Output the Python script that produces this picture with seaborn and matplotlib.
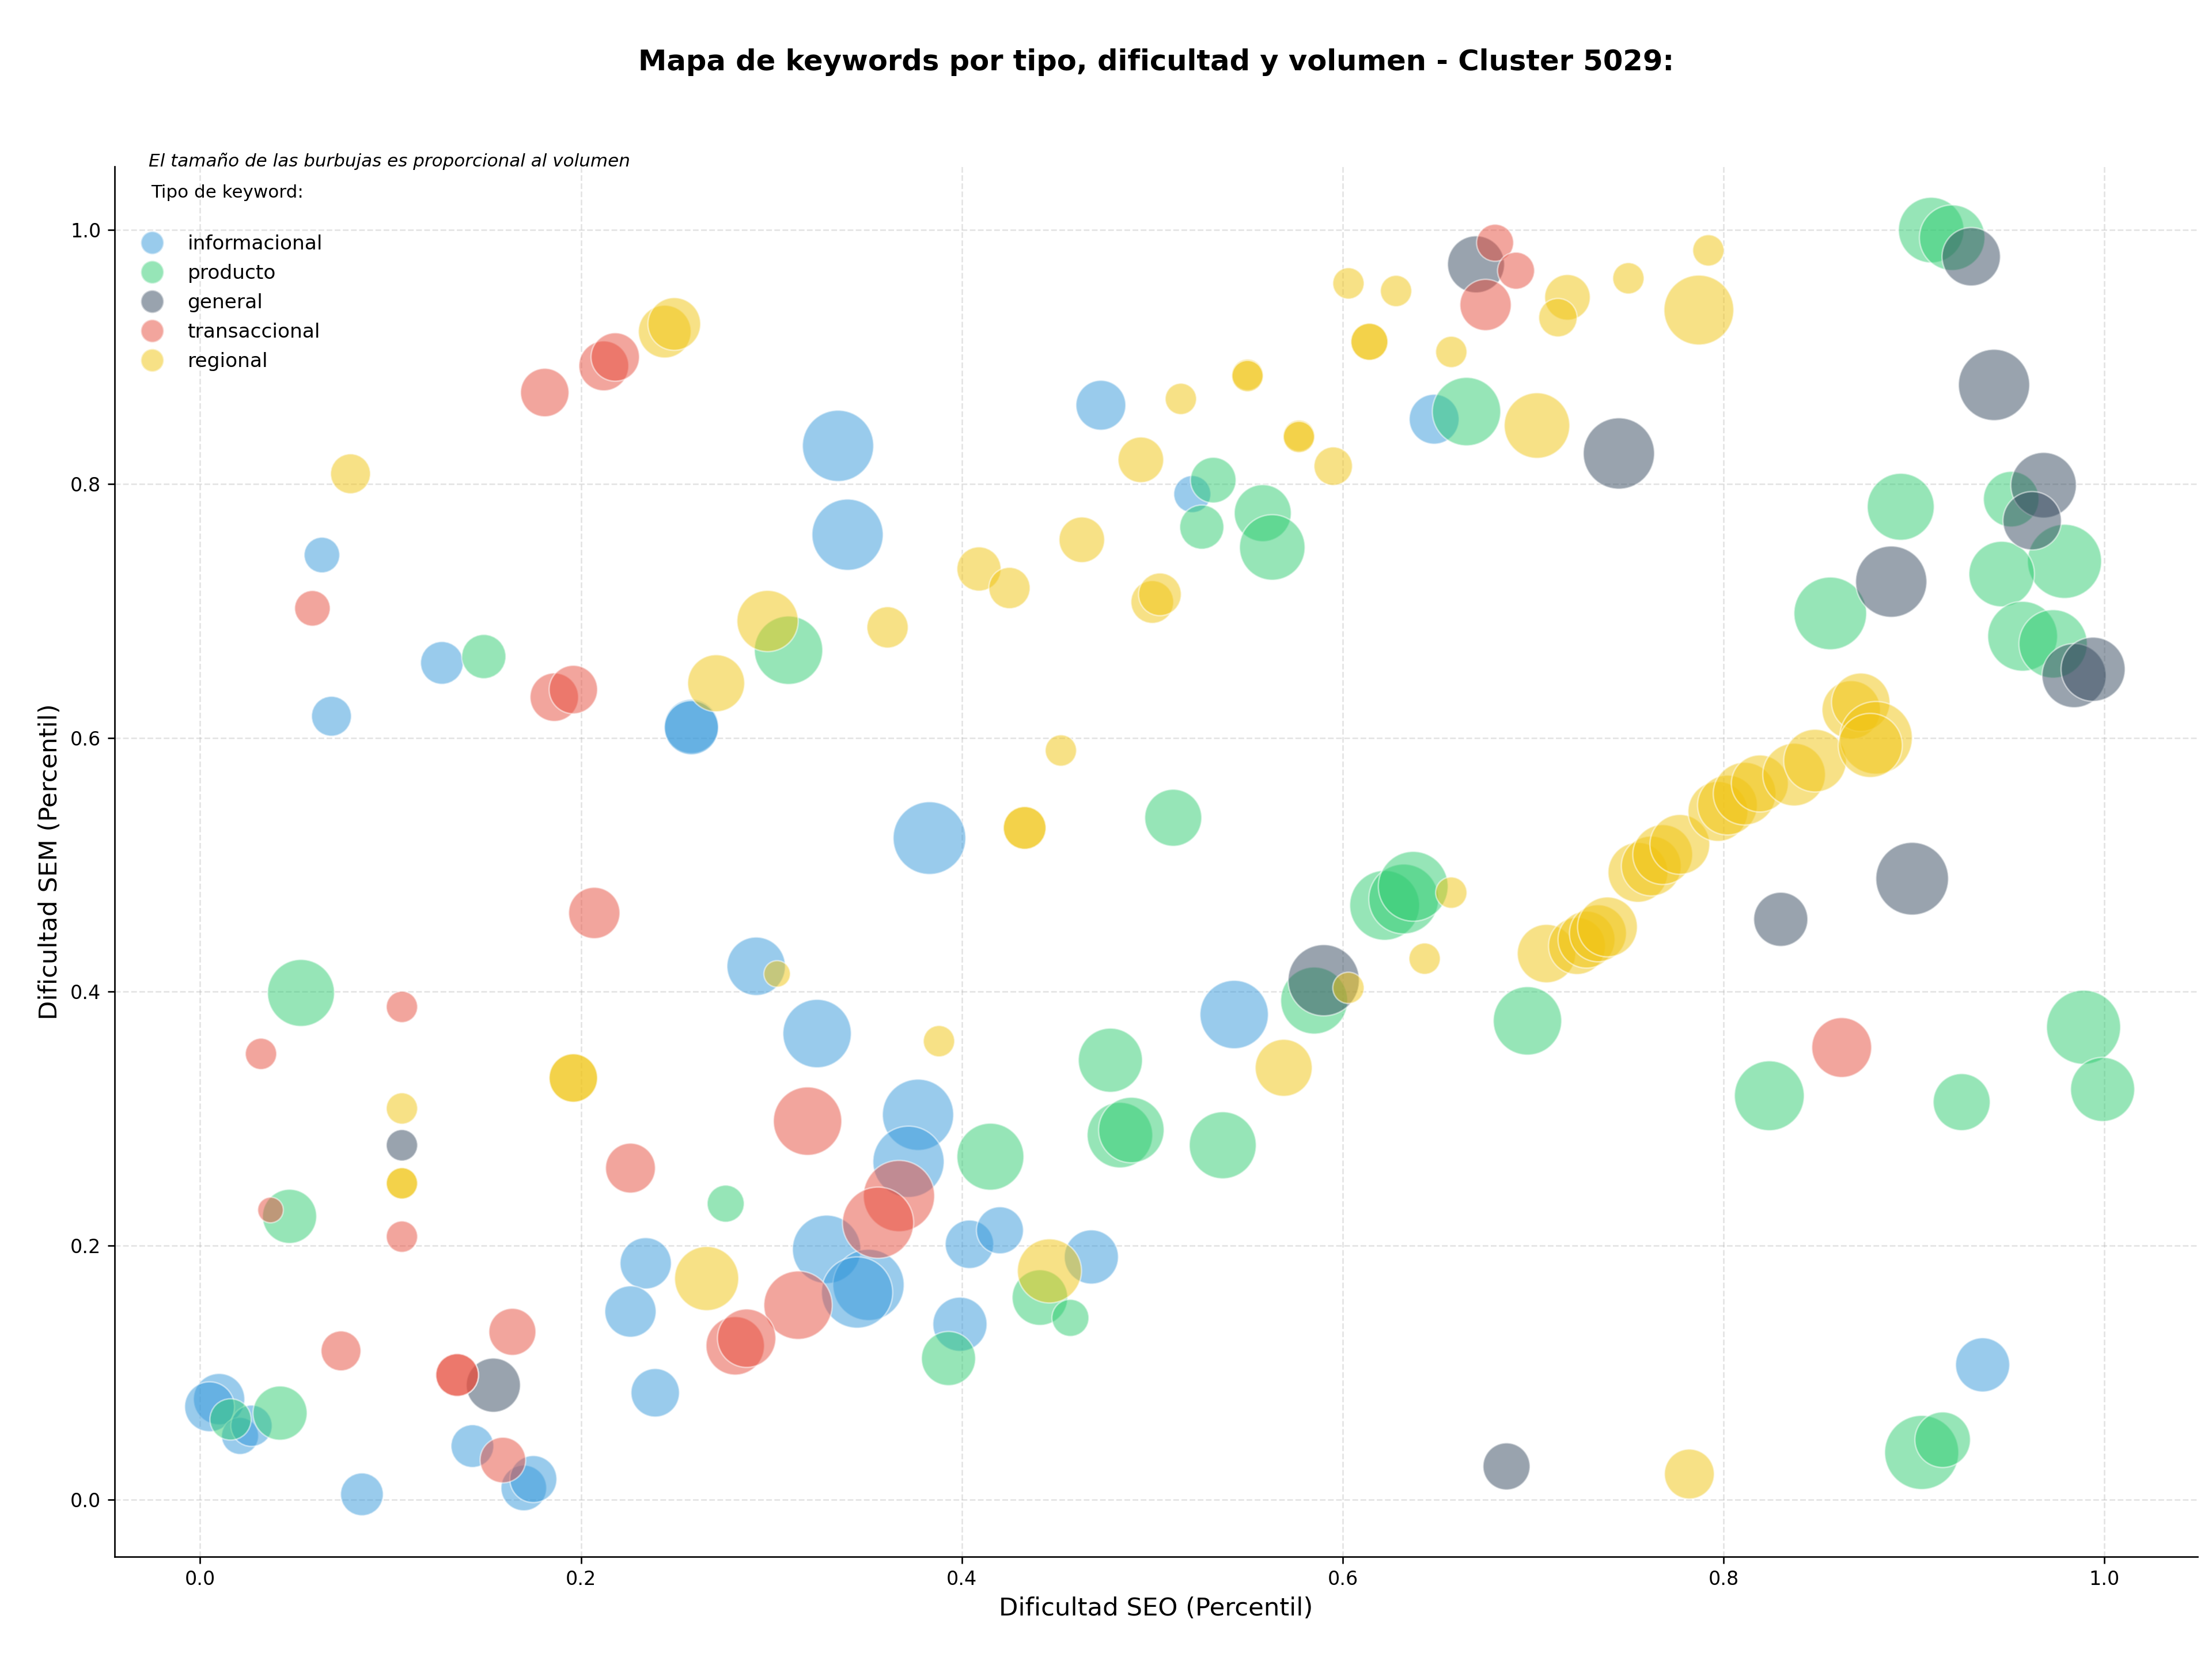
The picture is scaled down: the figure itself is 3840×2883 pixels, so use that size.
import matplotlib
matplotlib.use("Agg")
import pandas as pd
import matplotlib.pyplot as plt
import seaborn as sns
from matplotlib.lines import Line2D

plt.rcParams['font.family'] = ['DejaVu Sans']

# tipos de keyword y colores
tipos = ['informacional', 'producto', 'general', 'transaccional', 'regional']
colores = {'informacional': '#3498db', 'producto': '#2ecc71', 'general': '#34495e',
           'transaccional': '#e74c3c', 'regional': '#f1c40f'}

# informacional
info_seo = [0.335, 0.340, 0.473, 0.064, 0.127, 0.069, 0.258, 0.258, 0.383, 0.292, 0.324, 0.543,
            0.377, 0.372, 0.329, 0.351, 0.345, 0.404, 0.420, 0.468, 0.399, 0.234, 0.226, 0.239,
            0.521, 0.648, 0.936, 0.010, 0.005, 0.021, 0.027, 0.085, 0.143, 0.170, 0.175]
info_sem = [0.830, 0.760, 0.862, 0.744, 0.659, 0.617, 0.609, 0.608, 0.521, 0.420, 0.367, 0.382,
            0.303, 0.266, 0.197, 0.169, 0.163, 0.201, 0.212, 0.191, 0.138, 0.186, 0.148, 0.084,
            0.792, 0.851, 0.106, 0.079, 0.073, 0.050, 0.058, 0.004, 0.042, 0.009, 0.016]
info_vol = [12500, 12500, 6125, 3125, 4500, 3920, 7220, 7220, 13005, 8405, 11520, 11520,
            12500, 12500, 11520, 12500, 12500, 5780, 5445, 7220, 7220, 6480, 6480, 5780,
            3380, 6125, 7220, 6480, 6125, 3380, 4205, 4500, 4500, 5120, 5445]

# producto
prod_seo = [0.149, 0.053, 0.047, 0.016, 0.042, 0.309, 0.276, 0.415, 0.483, 0.489, 0.478, 0.441,
            0.457, 0.393, 0.537, 0.511, 0.532, 0.526, 0.558, 0.563, 0.665, 0.622, 0.632, 0.637,
            0.585, 0.697, 0.824, 0.925, 0.989, 0.999, 0.904, 0.915, 0.909, 0.920, 0.893, 0.951,
            0.979, 0.946, 0.856, 0.957, 0.973]
prod_sem = [0.664, 0.399, 0.223, 0.063, 0.068, 0.669, 0.233, 0.270, 0.287, 0.291, 0.346, 0.159,
            0.143, 0.111, 0.279, 0.537, 0.803, 0.766, 0.777, 0.750, 0.857, 0.468, 0.473, 0.483,
            0.393, 0.377, 0.318, 0.313, 0.372, 0.323, 0.037, 0.047, 1.000, 0.994, 0.782, 0.788,
            0.739, 0.729, 0.698, 0.680, 0.674]
prod_vol = [4805, 11045, 7220, 4205, 7220, 11520, 3380, 11045, 10580, 10580, 10125, 7605,
            3380, 7220, 11045, 8000, 5120, 4805, 8000, 10580, 11520, 12005, 12005, 12005,
            11045, 11520, 12005, 8000, 13520, 10125, 13520, 7605, 10580, 10580, 11045, 7605,
            13520, 10580, 13005, 12005, 11520]

# general
gen_seo = [0.106, 0.154, 0.590, 0.670, 0.745, 0.686, 0.830, 0.899, 0.930, 0.942, 0.968, 0.962,
           0.888, 0.984, 0.994]
gen_sem = [0.279, 0.090, 0.409, 0.973, 0.824, 0.026, 0.457, 0.489, 0.979, 0.878, 0.799, 0.771,
           0.723, 0.649, 0.654]
gen_vol = [2420, 7220, 12500, 8000, 12500, 5445, 7220, 13005, 8405, 12500, 10580, 8405,
           12500, 10125, 10125]

# transaccional
tran_seo = [0.181, 0.212, 0.218, 0.059, 0.186, 0.196, 0.207, 0.106, 0.032, 0.037, 0.106, 0.226,
            0.319, 0.367, 0.356, 0.314, 0.281, 0.287, 0.074, 0.135, 0.135, 0.164, 0.159, 0.680,
            0.691, 0.675, 0.862]
tran_sem = [0.872, 0.893, 0.900, 0.702, 0.632, 0.638, 0.462, 0.388, 0.351, 0.228, 0.207, 0.261,
            0.298, 0.239, 0.218, 0.153, 0.121, 0.127, 0.117, 0.098, 0.098, 0.132, 0.031, 0.990,
            0.968, 0.941, 0.356]
tran_vol = [5780, 6125, 5780, 3125, 5780, 5780, 6480, 2420, 2420, 1620, 2420, 6125,
            11520, 12500, 12500, 11520, 8405, 8405, 3920, 4500, 4500, 5445, 5120, 3380,
            3380, 6480, 8820]

# regional
reg_seo = [0.244, 0.249, 0.079, 0.271, 0.298, 0.361, 0.409, 0.425, 0.463, 0.494, 0.500, 0.504,
           0.515, 0.550, 0.550, 0.577, 0.577, 0.595, 0.603, 0.628, 0.614, 0.614, 0.657, 0.718,
           0.713, 0.750, 0.792, 0.787, 0.702, 0.452, 0.433, 0.433, 0.303, 0.388, 0.196, 0.196,
           0.106, 0.106, 0.106, 0.266, 0.446, 0.569, 0.603, 0.657, 0.643, 0.782, 0.707, 0.723,
           0.728, 0.734, 0.739, 0.755, 0.762, 0.768, 0.777, 0.797, 0.802, 0.811, 0.819, 0.837,
           0.848, 0.867, 0.872, 0.880, 0.877]
reg_sem = [0.920, 0.926, 0.808, 0.643, 0.692, 0.687, 0.733, 0.718, 0.756, 0.819, 0.707, 0.713,
           0.867, 0.886, 0.885, 0.838, 0.837, 0.814, 0.958, 0.952, 0.912, 0.912, 0.904, 0.947,
           0.931, 0.962, 0.984, 0.937, 0.846, 0.590, 0.529, 0.529, 0.414, 0.361, 0.332, 0.332,
           0.308, 0.249, 0.249, 0.174, 0.180, 0.340, 0.403, 0.478, 0.426, 0.020, 0.430, 0.436,
           0.441, 0.446, 0.451, 0.494, 0.499, 0.508, 0.516, 0.542, 0.547, 0.556, 0.564, 0.571,
           0.582, 0.622, 0.628, 0.600, 0.594]
reg_vol = [6845, 6845, 3920, 8000, 9245, 4205, 4805, 4205, 5120, 5120, 4500, 4500,
           2420, 2420, 2420, 2420, 2420, 3645, 2420, 2420, 3380, 3380, 2420, 5120,
           3645, 2420, 2420, 12005, 10580, 2420, 4500, 4500, 1730, 2420, 5780, 5780,
           2420, 2420, 2420, 10125, 10125, 8000, 2420, 2420, 2420, 6125, 8405, 8000,
           8000, 8000, 8820, 8820, 8820, 8820, 8820, 8820, 8820, 9680, 8000, 9680,
           9680, 8405, 8405, 13005, 10125]

# armar dataframe
partes = []
for tipo, seo, sem, vol in [('informacional', info_seo, info_sem, info_vol),
                            ('producto', prod_seo, prod_sem, prod_vol),
                            ('general', gen_seo, gen_sem, gen_vol),
                            ('transaccional', tran_seo, tran_sem, tran_vol),
                            ('regional', reg_seo, reg_sem, reg_vol)]:
    partes.append(pd.DataFrame({'seo': seo, 'sem': sem, 'volumen': vol, 'tipo': tipo}))
df = pd.concat(partes, ignore_index=True)

fig, ax = plt.subplots(figsize=(16, 12.0125), dpi=240)
fig.subplots_adjust(left=0.0517, right=0.9936, top=0.8997, bottom=0.0629)

sns.scatterplot(data=df, x='seo', y='sem', hue='tipo', hue_order=tipos, palette=colores,
                size='volumen', sizes=(178, 1487), alpha=0.5, edgecolor='white',
                linewidth=0.8, legend=False, ax=ax)

ax.set_xlim(-0.045, 1.049)
ax.set_ylim(-0.045, 1.05)
ax.grid(True, linestyle='--', linewidth=0.8, color='#b0b0b0', alpha=0.35)
ax.set_axisbelow(True)
sns.despine(ax=ax)

ax.set_xlabel('Dificultad SEO (Percentil)', fontsize=13)
ax.set_ylabel('Dificultad SEM (Percentil)', fontsize=13)
ax.set_title('Mapa de keywords por tipo, dificultad y volumen - Cluster 5029:',
             fontsize=14.9, fontweight='bold', pad=50)

# leyenda solo por tipo
handles = [Line2D([0], [0], marker='o', linestyle='', markersize=12,
                  markerfacecolor=colores[t], markeredgecolor='white', alpha=0.5)
           for t in tipos]
leg = ax.legend(handles, tipos, title='Tipo de keyword:\n', loc='upper left', frameon=False,
                fontsize=10.3, title_fontsize=9.3, labelspacing=0.52)
leg.get_title().set_linespacing(1.5)
ax.text(0.0165, 1.0, 'El tamaño de las burbujas es proporcional al volumen',
        transform=ax.transAxes, fontsize=9.3, style='italic', va='baseline')

plt.savefig('out.png', dpi=240)
